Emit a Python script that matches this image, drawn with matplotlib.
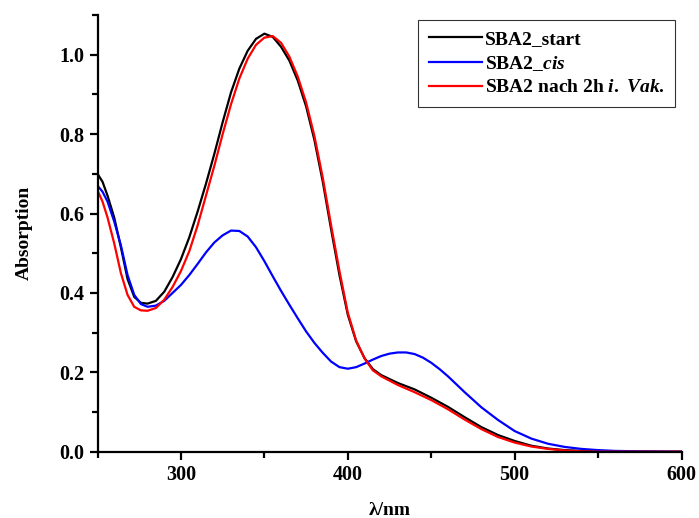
import matplotlib.pyplot as plt
from matplotlib.ticker import MultipleLocator

# UV/Vis spectra
wl_start = [250, 253, 256, 260, 264, 268, 272, 276, 280, 285, 290, 295, 300, 305, 310, 315,
            320, 325, 330, 335, 340, 345, 350, 355, 360, 365, 370, 375, 380, 385, 390, 395,
            400, 405, 410, 415, 420, 430, 440, 450, 460, 470, 480, 490, 500, 510, 520, 530,
            540, 550, 575, 600]
abs_start = [0.70, 0.68, 0.645, 0.59, 0.515, 0.435, 0.39, 0.375, 0.373, 0.38, 0.403, 0.44, 0.485, 0.54, 0.605, 0.675,
             0.75, 0.83, 0.905, 0.965, 1.01, 1.04, 1.053, 1.045, 1.02, 0.985, 0.935, 0.87, 0.785, 0.68, 0.56, 0.445,
             0.345, 0.278, 0.236, 0.208, 0.193, 0.173, 0.157, 0.136, 0.113, 0.087, 0.062, 0.042, 0.027, 0.015, 0.008, 0.004,
             0.002, 0.001, 0.0, 0.0]

wl_cis = [250, 253, 256, 260, 264, 268, 272, 276, 280, 285, 290, 295, 300, 305, 310, 315,
          320, 325, 330, 335, 340, 345, 350, 355, 360, 365, 370, 375, 380, 385, 390, 395,
          400, 405, 410, 415, 420, 425, 430, 435, 440, 445, 450, 455, 460, 470, 480, 490,
          500, 510, 520, 530, 540, 550, 560, 575, 600]
abs_cis = [0.67, 0.655, 0.63, 0.58, 0.52, 0.445, 0.395, 0.372, 0.365, 0.368, 0.38, 0.40, 0.42, 0.445, 0.473, 0.502,
           0.527, 0.545, 0.557, 0.556, 0.542, 0.515, 0.48, 0.442, 0.405, 0.37, 0.336, 0.303, 0.274, 0.249, 0.227, 0.213,
           0.209, 0.213, 0.222, 0.232, 0.241, 0.247, 0.25, 0.25, 0.246, 0.237, 0.224, 0.208, 0.19, 0.15, 0.112, 0.08,
           0.052, 0.033, 0.02, 0.012, 0.007, 0.004, 0.002, 0.001, 0.0]

wl_vak = [250, 253, 256, 260, 264, 268, 272, 276, 280, 285, 290, 295, 300, 305, 310, 315,
          320, 325, 330, 335, 340, 345, 350, 355, 360, 365, 370, 375, 380, 385, 390, 395,
          400, 405, 410, 415, 420, 430, 440, 450, 460, 470, 480, 490, 500, 510, 520, 530,
          540, 550, 575, 600]
abs_vak = [0.658, 0.63, 0.59, 0.525, 0.45, 0.395, 0.365, 0.356, 0.355, 0.362, 0.383, 0.415, 0.455, 0.505, 0.57, 0.645,
           0.72, 0.80, 0.875, 0.94, 0.99, 1.025, 1.043, 1.047, 1.03, 0.995, 0.945, 0.88, 0.795, 0.69, 0.57, 0.455,
           0.35, 0.28, 0.235, 0.205, 0.19, 0.168, 0.15, 0.13, 0.107, 0.081, 0.057, 0.037, 0.023, 0.013, 0.007, 0.003,
           0.001, 0.0, 0.0, 0.0]

plt.rcParams['font.family'] = ['Liberation Serif', 'DejaVu Serif']
plt.rcParams['font.weight'] = 'bold'
plt.rcParams['mathtext.fontset'] = 'custom'
plt.rcParams['mathtext.it'] = 'Liberation Serif:italic:bold'
plt.rcParams['mathtext.rm'] = 'Liberation Serif:bold'

fig = plt.figure(figsize=(6.99, 5.18), dpi=100)
ax = fig.add_axes([0.1395, 0.128, 0.8355, 0.843])

ax.plot(wl_start, abs_start, color='black', lw=1.6, label='SBA2_start')
ax.plot(wl_cis, abs_cis, color='blue', lw=1.6, label='SBA2_$\\mathit{cis}$')
ax.plot(wl_vak, abs_vak, color='red', lw=1.6, label='SBA2 nach 2h $\\mathit{i.\\ Vak.}$')

ax.set_xlim(250, 600)
ax.set_ylim(0, 1.1)
ax.xaxis.set_major_locator(MultipleLocator(100))
ax.xaxis.set_minor_locator(MultipleLocator(50))
ax.yaxis.set_major_locator(MultipleLocator(0.2))
ax.yaxis.set_minor_locator(MultipleLocator(0.1))
ax.yaxis.set_major_formatter(plt.FuncFormatter(lambda v, p: f'{v:.1f}'))

for s in ['top', 'right']:
    ax.spines[s].set_visible(False)
for s in ['left', 'bottom']:
    ax.spines[s].set_linewidth(1.6)
ax.tick_params(which='major', length=6, width=1.6, labelsize=14.5, direction='out')
ax.tick_params(which='minor', length=4, width=1.6, direction='out')

ax.set_xlabel('λ/nm', fontsize=14, fontweight='bold', labelpad=12)
ax.set_ylabel('Absorption', fontsize=14, fontweight='bold', labelpad=19)

leg = ax.legend(loc='upper right', bbox_to_anchor=(0.989, 0.989), borderaxespad=0, fontsize=14,
                frameon=True, fancybox=False, edgecolor='black', handlelength=2.7, handletextpad=0.15,
                borderpad=0.55, labelspacing=0.3)
leg.get_frame().set_linewidth(0.8)
for t in leg.get_texts():
    t.set_fontweight('bold')

fig.savefig('out.png', dpi=100)
